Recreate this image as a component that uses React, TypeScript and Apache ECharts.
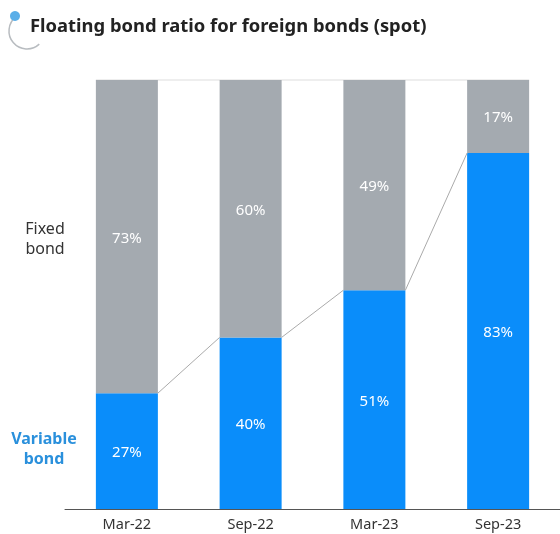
import React, { useEffect, useRef } from "react";
import * as echarts from "echarts";

const categories = ["Mar-22", "Sep-22", "Mar-23", "Sep-23"];
const variableBond = [27, 40, 51, 83];
const fixedBond = [73, 60, 49, 17];
const titleText = "Floating bond ratio for foreign bonds (spot)";

const BLUE = "#0A8DFA";
const GRAY = "#A4AAB0";
const FONT = "'Noto Sans', 'Noto Sans CJK JP', sans-serif";
const BAR_W = 62;

export default function App() {
  const ref = useRef<HTMLDivElement>(null);
  useEffect(() => {
    if (!ref.current) return;
    const chart = echarts.init(ref.current, null, { renderer: "svg" });
    const connectors = variableBond.slice(0, -1).map((v, i) => [i, v, variableBond[i + 1]]);
    chart.setOption({
      animation: false,
      textStyle: { fontFamily: FONT },
      grid: { left: 65, top: 80, width: 498, height: 429 },
      xAxis: {
        type: "category",
        data: categories,
        axisLine: { lineStyle: { color: "#555", width: 1 } },
        axisTick: { show: false },
        axisLabel: { color: "#333", fontSize: 14.5, margin: 7, fontFamily: FONT },
      },
      yAxis: { type: "value", min: 0, max: 100, show: false, splitLine: { show: false } },
      graphic: [
        {
          type: "arc",
          shape: { cx: 27, cy: 31, r: 18, startAngle: (47 * Math.PI) / 180, endAngle: (233 * Math.PI) / 180, clockwise: true },
          style: { stroke: "#B8BCC0", lineWidth: 1.5, fill: "none" },
        },
        { type: "circle", shape: { cx: 15, cy: 16, r: 5 }, style: { fill: "#5AAEE8" } },
        {
          type: "text",
          left: 30,
          top: 15,
          style: { text: titleText, fontSize: 18.4, fontWeight: "bold", fill: "#222", fontFamily: FONT },
        },
        {
          type: "text",
          x: 45,
          y: 238,
          style: { text: "Fixed\nbond", fontSize: 16, fill: "#333", align: "center", verticalAlign: "middle", lineHeight: 20, fontFamily: FONT },
        },
        {
          type: "text",
          x: 44,
          y: 448,
          style: { text: "Variable\nbond", fontSize: 16, fontWeight: "bold", fill: "#2A90DC", align: "center", verticalAlign: "middle", lineHeight: 20, fontFamily: FONT },
        },
      ],
      series: [
        {
          name: "Variable bond",
          type: "bar",
          stack: "total",
          barWidth: BAR_W,
          data: variableBond,
          itemStyle: { color: BLUE },
          label: { show: true, position: "inside", formatter: "{c}%", color: "#fff", fontSize: 15, fontFamily: FONT },
        },
        {
          name: "Fixed bond",
          type: "bar",
          stack: "total",
          barWidth: BAR_W,
          data: fixedBond,
          itemStyle: { color: GRAY },
          label: { show: true, position: "inside", formatter: "{c}%", color: "#fff", fontSize: 15, fontFamily: FONT },
        },
        {
          type: "custom",
          data: connectors,
          encode: { x: 0, y: 1 },
          z: 5,
          renderItem: (params: any, api: any) => {
            const i = api.value(0);
            const p0 = api.coord([i, api.value(1)]);
            const p1 = api.coord([i + 1, api.value(2)]);
            return {
              type: "line",
              shape: { x1: p0[0] + BAR_W / 2, y1: p0[1], x2: p1[0] - BAR_W / 2, y2: p1[1] },
              style: { stroke: "#AAAAAA", lineWidth: 1 },
            };
          },
        },
        {
          type: "custom",
          data: [[0, 100]],
          encode: { x: 0, y: 1 },
          z: 1,
          renderItem: (params: any, api: any) => {
            const a = api.coord([0, 100]);
            const b = api.coord([categories.length - 1, 100]);
            return {
              type: "line",
              shape: { x1: a[0] - BAR_W / 2, y1: a[1], x2: b[0] + BAR_W / 2, y2: b[1] },
              style: { stroke: "#DDDDDD", lineWidth: 1 },
            };
          },
        },
      ],
    });
    return () => chart.dispose();
  }, []);
  return <div ref={ref} style={{ position: "fixed", left: 0, top: 0, width: 560, height: 534 }} />;
}
